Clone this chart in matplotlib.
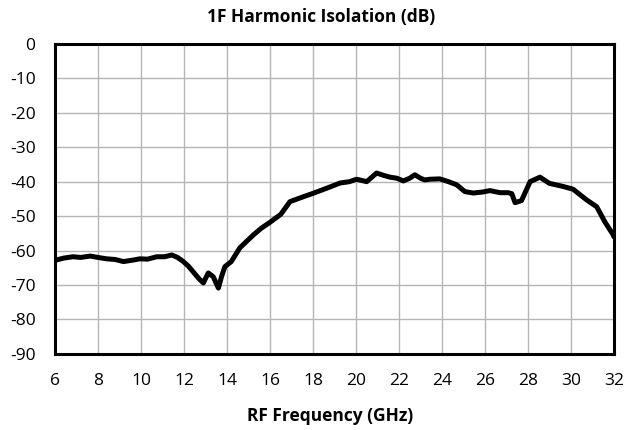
import matplotlib
matplotlib.use("Agg")
import matplotlib.pyplot as plt

freq = [6.0, 6.08, 6.4, 6.84, 7.2, 7.63, 8.0, 8.4, 8.8, 9.18, 9.6, 9.95, 10.3, 10.73, 11.1, 11.43,
        11.7, 11.97, 12.2, 12.43, 12.7, 12.9, 13.13, 13.36, 13.6, 13.75, 13.9, 14.2, 14.6, 15.22,
        15.6, 16.0, 16.5, 16.93, 17.5, 18.0, 18.6, 19.26, 19.7, 20.03, 20.5, 20.96, 21.3, 21.58,
        21.9, 22.2, 22.5, 22.74, 23.0, 23.2, 23.44, 23.9, 24.3, 24.68, 25.07, 25.46, 25.9, 26.23,
        26.7, 27.08, 27.25, 27.4, 27.7, 28.1, 28.56, 29.0, 29.64, 30.1, 30.73, 31.2, 31.58, 31.97, 32.0]
isolation = [-62.8, -62.7, -62.2, -61.8, -62.0, -61.6, -62.0, -62.4, -62.6, -63.2, -62.8, -62.4,
             -62.5, -61.8, -61.8, -61.3, -62.0, -63.2, -64.5, -66.2, -68.2, -69.4, -66.5, -67.6,
             -70.9, -67.5, -64.7, -63.2, -59.2, -55.5, -53.5, -51.8, -49.5, -45.8, -44.5, -43.4,
             -42.0, -40.4, -40.0, -39.3, -40.0, -37.5, -38.2, -38.7, -39.0, -39.8, -39.0, -38.0,
             -39.0, -39.5, -39.3, -39.2, -40.0, -40.9, -42.9, -43.3, -43.0, -42.6, -43.2, -43.2,
             -43.5, -46.1, -45.5, -40.0, -38.7, -40.5, -41.4, -42.2, -45.3, -47.3, -51.7, -55.5, -56.0]

xticks = list(range(6, 33, 2))
yticks = list(range(-90, 1, 10))

plt.rcParams['font.family'] = ['Open Sans', 'DejaVu Sans']
plt.rcParams['axes.unicode_minus'] = False
fig = plt.figure(figsize=(6.28, 4.30), dpi=100)
ax = fig.add_axes([0.0876, 0.177, 0.890, 0.721])
ax.plot(freq, isolation, color='black', linewidth=3.6, solid_capstyle='round', solid_joinstyle='round', zorder=3)
ax.set_xlim(6, 32)
ax.set_ylim(-90, 0)
ax.set_xticks(xticks)
ax.set_yticks(yticks)
ax.grid(True, color='#b5b5b5', linewidth=1.0)
ax.tick_params(axis='y', length=0, labelsize=12.5, pad=14)
ax.tick_params(axis='x', length=0, labelsize=12.5, pad=14)
for s in ax.spines.values():
    s.set_linewidth(2.2)
    s.set_color('black')
    s.set_zorder(4)
fig.text(321 / 628, 1 - 17 / 430, '1F Harmonic Isolation (dB)', fontsize=12.5,
         fontweight='bold', ha='center', va='center')
fig.text(330 / 628, 1 - 416 / 430, 'RF Frequency (GHz)', fontsize=12.5,
         fontweight='bold', ha='center', va='center')
fig.savefig('out.png', dpi=100)
